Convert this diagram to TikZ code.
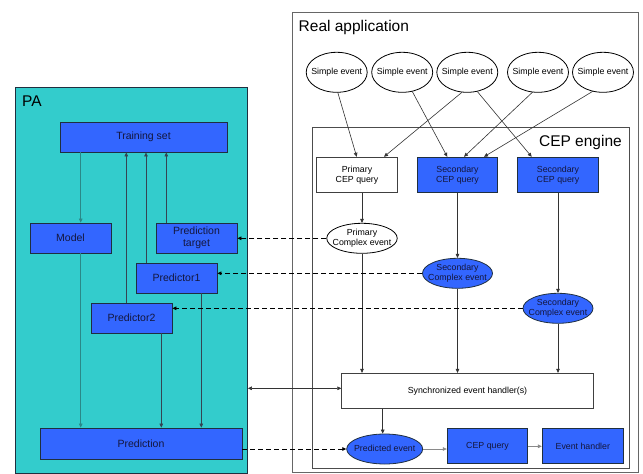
\documentclass[tikz,border=0pt]{standalone}
\usepackage{fontspec}
\setmainfont{Liberation Sans}
\usetikzlibrary{arrows.meta,shapes.geometric}
\definecolor{paback}{HTML}{33CCCC}
\definecolor{boxblue}{HTML}{3366FF}
\definecolor{navytext}{HTML}{14163C}
\definecolor{frame}{HTML}{1F2F3F}
\definecolor{tealline}{HTML}{2A8888}
\definecolor{grayline}{HTML}{8A8A8A}
% ellipse labels take no width, so the ellipse keeps its set size
\newcommand\evlabel[1]{\makebox[0pt]{\begin{tabular}{@{}c@{}}#1\end{tabular}}}
\tikzset{
  tip/.style={-{Triangle[length=4pt,width=3.6pt]}},
  bluebox/.style={draw=frame, line width=0.9pt, fill=boxblue, text=navytext,
    font=\fontsize{10.5}{12}\selectfont, align=center, inner sep=0pt},
  cepbox/.style={draw=frame, line width=0.9pt, fill=boxblue, text=navytext,
    font=\fontsize{8.8}{10.5}\selectfont, align=center, inner sep=0pt},
  whitebox/.style={draw=black!75, line width=0.9pt, fill=white, text=black,
    font=\fontsize{8.8}{10.5}\selectfont, align=center, inner sep=0pt},
  simpleev/.style={ellipse, draw=black, line width=0.8pt, fill=white,
    minimum width=61pt, minimum height=40pt, inner sep=0pt,
    font=\fontsize{8.8}{10.5}\selectfont},
  complexev/.style={ellipse, draw=frame, line width=0.8pt, fill=boxblue, text=navytext,
    minimum width=70pt, minimum height=30pt, inner sep=0pt,
    font=\fontsize{8.8}{10}\selectfont},
  title/.style={font=\fontsize{15.5}{18}\selectfont, anchor=base west, inner sep=0pt},
  link/.style={draw=black!80, line width=0.6pt, tip},
  palink/.style={draw=frame!90, line width=0.6pt, tip},
  dlink/.style={draw=black, line width=0.8pt, dash pattern=on 5pt off 3pt, tip},
}
\begin{document}
\begin{tikzpicture}[x=1pt,y=-1pt]
\useasboundingbox (0,0) rectangle (643,474);

% ---------------- PA ----------------
\node[draw=frame, line width=0.9pt, fill=paback, minimum width=232pt, minimum height=386pt,
  anchor=north west, inner sep=0pt] (pa) at (15,87) {};
\node[title] (patitle) at (22,106) {PA};

\node[bluebox, minimum width=167pt, minimum height=30pt] (train) at (143.5,137) {Training set};
\node[bluebox, minimum width=81pt, minimum height=30pt] (model) at (70.5,238) {Model};
\node[bluebox, minimum width=81pt, minimum height=30pt] (ptarget) at (196.5,238) {Prediction\\target};
\node[bluebox, minimum width=81pt, minimum height=30pt] (pred1) at (176.5,278) {Predictor1};
\node[bluebox, minimum width=81pt, minimum height=30pt] (pred2) at (131.5,318) {Predictor2};
\node[bluebox, minimum width=202pt, minimum height=31pt] (predict) at (141,443.5) {Prediction};

\draw[palink, draw=tealline] (train.south -| 80.7,0) -- (model.north -| 80.7,0);
\draw[palink, draw=tealline] (model.south -| 80.7,0) -- (predict.north -| 80.7,0);
\draw[palink] (pred2.north -| 126.3,0) -- (train.south -| 126.3,0);
\draw[palink] (pred1.north -| 146,0) -- (train.south -| 146,0);
\draw[palink] (ptarget.north -| 166.3,0) -- (train.south -| 166.3,0);
\draw[palink] (pred2.south -| 161.3,0) -- (predict.north -| 161.3,0);
\draw[palink] (pred1.south -| 201.3,0) -- (predict.north -| 201.3,0);

% ---------------- Real application ----------------
\node[draw=black!60, line width=0.9pt, minimum width=346pt, minimum height=460pt,
  anchor=north west, inner sep=0pt] (realapp) at (292,12) {};
\node[title] (ratitle) at (298.5,31.5) {Real application};

\node[simpleev] (se1) at (336.7,72.3) {\evlabel{Simple event}};
\node[simpleev] (se2) at (402.2,72.3) {\evlabel{Simple event}};
\node[simpleev] (se3) at (467.3,72.3) {\evlabel{Simple event}};
\node[simpleev] (se4) at (538,72.3) {\evlabel{Simple event}};
\node[simpleev] (se5) at (603,72.3) {\evlabel{Simple event}};

% ---------------- CEP engine ----------------
\node[draw=black!70, line width=0.9pt, minimum width=317pt, minimum height=341pt,
  anchor=north west, inner sep=0pt] (cep) at (312,127) {};
\node[font=\fontsize{15.5}{18}\selectfont, anchor=base east, inner sep=0pt] (ceptitle) at (622,146.5) {CEP engine};

\node[whitebox, minimum width=80.5pt, minimum height=35.5pt] (pq) at (357,175) {Primary\\CEP query};
\node[cepbox, minimum width=80.5pt, minimum height=35.5pt] (sq1) at (457.5,175) {Secondary\\CEP query};
\node[cepbox, minimum width=80.5pt, minimum height=35.5pt] (sq2) at (558,175) {Secondary\\CEP query};

\node[ellipse, draw=black, line width=0.8pt, fill=white, minimum width=70.5pt, minimum height=30pt,
  inner sep=0pt, font=\fontsize{8.8}{10}\selectfont] (pce) at (362,238.3) {\evlabel{Primary\\Complex event}};
\node[complexev] (sce1) at (457.5,273.3) {\evlabel{Secondary\\Complex event}};
\node[complexev] (sce2) at (558,308.3) {\evlabel{Secondary\\Complex event}};

\node[whitebox, minimum width=251.5pt, minimum height=35pt] (sync) at (467.5,390.8) {Synchronized event handler(s)};

\node[complexev, minimum width=76pt, minimum height=30pt] (pev) at (384.7,449) {\evlabel{Predicted event}};
\node[cepbox, minimum width=80.5pt, minimum height=35pt] (cq) at (487.5,446.3) {CEP query};
\node[cepbox, minimum width=81pt, minimum height=35pt] (eh) at (582.8,446.3) {Event handler};

% simple events feeding the queries
\draw[link] (337.7,92.2) -- (pq.north -| 356.7,0);
\draw[link] (412.3,91.5) -- (sq1.north -| 447.3,0);
\draw[link] (462.3,92) -- (pq.north -| 384,0);
\draw[link] (477.3,91.5) -- (sq2.north -| 531.7,0);
\draw[link] (532.7,92) -- (sq1.north -| 464,0);
\draw[link] (593.3,91) -- (sq1.north -| 484,0);

% queries to complex events
\draw[link] (pq.south -| pce.north) -- (pce.north);
\draw[link] (sq1.south) -- (sce1.north);
\draw[link] (sq2.south) -- (sce2.north);

% complex events to the synchronized handler
\draw[link] (pce.south) -- (sync.north -| pce.south);
\draw[link] (sce1.south) -- (sync.north -| sce1.south);
\draw[link] (sce2.south) -- (sync.north -| sce2.south);

% handler to predicted event and onward
\draw[link] (sync.south -| 382.7,0) -- (pev.north -| 382.7,0);
\draw[link, draw=grayline] (pev.east) -- (cq.west |- pev.east);
\draw[link, draw=grayline] (cq.east) -- (eh.west);

% links between the application and PA
\draw[dlink] (pce.west) -- (ptarget.east |- pce.west);
\draw[dlink] (sce1.west) -- (pred1.east |- sce1.west);
\draw[dlink] (sce2.west) -- (pred2.east |- sce2.west);
\draw[dlink] (predict.east |- pev.west) -- (pev.west);
\draw[draw=black!80, line width=0.6pt, {Triangle[length=4pt,width=3.6pt]}-{Triangle[length=4pt,width=3.6pt]}]
  (pa.east |- 0,388.3) -- (sync.west |- 0,388.3);
\end{tikzpicture}
\end{document}
